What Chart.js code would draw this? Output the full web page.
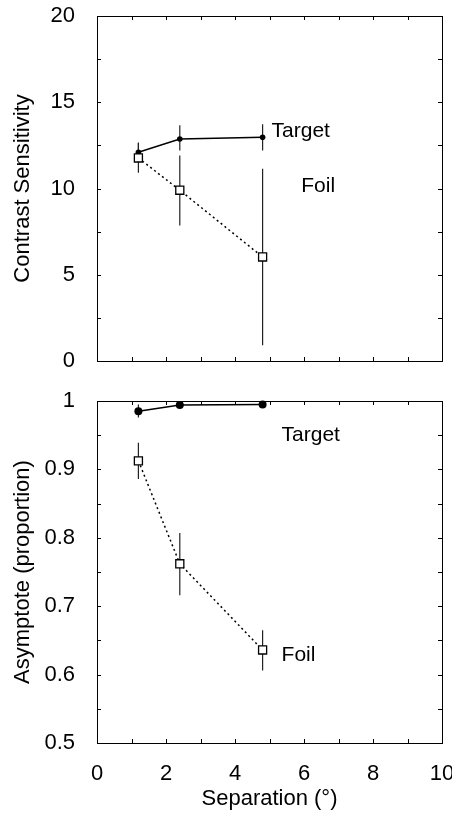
<!DOCTYPE html>
<html>
<head>
<meta charset="utf-8">
<script src="https://cdn.jsdelivr.net/npm/chart.js@4.4.1/dist/chart.umd.min.js"></script>
<style>
    html, body { margin: 0; padding: 0; background: #fff; }
    canvas { position: absolute; left: 0; }
</style>
</head>
<body>
<canvas id="csChart" width="452" height="380" style="top:0"></canvas>
<canvas id="asChart" width="452" height="433" style="top:380px"></canvas>
<script>
// separation in degrees
const separation = [1.2, 2.4, 4.8];

// contrast sensitivity (top panel)
const csTarget   = [12.1, 12.87, 12.97];
const csTargetLo = [11.55, 12.21, 12.21];
const csTargetHi = [12.66, 13.66, 13.72];
const csFoil     = [11.77, 9.9, 6.03];
const csFoilLo   = [10.92, 7.86, 0.91];
const csFoilHi   = [12.62, 11.92, 11.15];

// asymptote (bottom panel)
const asTarget   = [0.985, 0.994, 0.995];
const asTargetLo = [0.976, 0.990, 0.991];
const asTargetHi = [0.995, 0.998, 0.999];
const asFoil     = [0.9125, 0.762, 0.636];
const asFoilLo   = [0.886, 0.716, 0.606];
const asFoilHi   = [0.939, 0.807, 0.665];

// tick labels
const xTickLabels  = [0, 2, 4, 6, 8, 10];
const csTickLabels = [0, 5, 10, 15, 20];
const asTickLabels = [0.5, 0.6, 0.7, 0.8, 0.9, 1];

const FONT = "'Liberation Sans', Arial, Helvetica, sans-serif";
Chart.defaults.font.family = FONT;
Chart.defaults.font.size = 22;
Chart.defaults.color = '#000';

const toPoints = (ys) => separation.map((x, i) => ({ x, y: ys[i] }));
const hasLabel = (list, v) => list.some(l => Math.abs(l - v) < 1e-9);

/* ---------- PLUGINS ---------- */

// box round the plot with inward ticks on all four sides
const framePlugin = {
    id: 'frame',
    beforeDatasetsDraw(chart) {
        const { ctx, chartArea: a, scales: { x, y } } = chart;
        const len = 4;
        ctx.save();
        ctx.strokeStyle = '#000';
        ctx.lineWidth = 1;
        ctx.strokeRect(a.left + 0.5, a.top + 0.5, a.right - a.left, a.bottom - a.top);
        ctx.beginPath();
        x.ticks.forEach(t => {
            const px = Math.round(x.getPixelForValue(t.value)) + 0.5;
            ctx.moveTo(px, a.bottom); ctx.lineTo(px, a.bottom - len);
            ctx.moveTo(px, a.top); ctx.lineTo(px, a.top + len);
        });
        y.ticks.forEach(t => {
            const py = Math.round(y.getPixelForValue(t.value)) + 0.5;
            ctx.moveTo(a.left, py); ctx.lineTo(a.left + len, py);
            ctx.moveTo(a.right, py); ctx.lineTo(a.right - len, py);
        });
        ctx.stroke();
        ctx.restore();
    }
};

const errorBarPlugin = {
    id: 'errorBars',
    beforeDatasetsDraw(chart) {
        const { ctx, scales: { x, y } } = chart;
        ctx.save();
        ctx.strokeStyle = '#222';
        ctx.lineWidth = 1.2;
        chart.data.datasets.forEach(ds => {
            if (!ds.errLo) return;
            ds.data.forEach((pt, i) => {
                const px = x.getPixelForValue(pt.x);
                ctx.beginPath();
                ctx.moveTo(px, y.getPixelForValue(ds.errLo[i]));
                ctx.lineTo(px, y.getPixelForValue(ds.errHi[i]));
                ctx.stroke();
            });
        });
        ctx.restore();
    }
};

const notesPlugin = {
    id: 'notes',
    afterDatasetsDraw(chart, args, opts) {
        const { ctx, scales: { x, y } } = chart;
        ctx.save();
        ctx.font = '21px ' + FONT;
        ctx.fillStyle = '#000';
        ctx.textAlign = 'left';
        ctx.textBaseline = 'alphabetic';
        (opts.items || []).forEach(n => {
            ctx.fillText(n.text, x.getPixelForValue(n.x), y.getPixelForValue(n.y));
        });
        ctx.restore();
    }
};

/* ---------- PANELS ---------- */

function makePanel(id, p) {
    return new Chart(document.getElementById(id), {
        type: 'scatter',
        data: {
            datasets: [
                {
                    label: 'Target',
                    data: toPoints(p.target),
                    errLo: p.targetLo, errHi: p.targetHi,
                    showLine: true,
                    borderColor: '#000',
                    borderWidth: 1.5,
                    pointStyle: 'circle',
                    pointRadius: p.dotRadius,
                    pointBackgroundColor: '#000',
                    pointBorderColor: '#000',
                    pointBorderWidth: 0,
                    clip: false,
                    order: 1
                },
                {
                    label: 'Foil',
                    data: toPoints(p.foil),
                    errLo: p.foilLo, errHi: p.foilHi,
                    showLine: true,
                    borderColor: '#000',
                    borderWidth: 1.5,
                    borderDash: [2, 3],
                    pointStyle: 'rect',
                    pointRadius: 5.7,
                    pointBackgroundColor: '#fff',
                    pointBorderColor: '#000',
                    pointBorderWidth: 1.3,
                    clip: false,
                    order: 0
                }
            ]
        },
        options: {
            responsive: false,
            animation: false,
            devicePixelRatio: 1,
            layout: { padding: { top: p.padTop, right: 10, left: 0, bottom: 0 } },
            plugins: {
                legend: { display: false },
                tooltip: { enabled: false },
                notes: { items: p.notes }
            },
            scales: {
                x: {
                    type: 'linear',
                    min: 0, max: 10,
                    grid: { display: false },
                    border: { display: false },
                    ticks: {
                        stepSize: 1,
                        autoSkip: false,
                        maxRotation: 0,
                        padding: 10,
                        callback: v => p.showX && hasLabel(xTickLabels, v) ? String(v) : ''
                    },
                    title: {
                        display: p.showX,
                        text: 'Separation (°)',
                        padding: { top: 0, bottom: 1 }
                    },
                    afterFit: s => { s.height = p.xHeight; s.paddingLeft = 0; s.paddingRight = 0; }
                },
                y: {
                    type: 'linear',
                    min: p.yMin, max: p.yMax,
                    grid: { display: false },
                    border: { display: false },
                    ticks: {
                        stepSize: p.yStep,
                        autoSkip: false,
                        padding: 14,
                        callback: v => hasLabel(p.yLabels, v) ? String(+v.toFixed(2)) : ''
                    },
                    title: {
                        display: true,
                        text: p.yTitle,
                        padding: { top: 10, bottom: 0 }
                    },
                    afterFit: s => { s.width = 97; s.paddingTop = 0; s.paddingBottom = 0; }
                }
            }
        },
        plugins: [framePlugin, errorBarPlugin, notesPlugin]
    });
}

makePanel('csChart', {
    target: csTarget, targetLo: csTargetLo, targetHi: csTargetHi,
    foil: csFoil, foilLo: csFoilLo, foilHi: csFoilHi,
    dotRadius: 2.8,
    yMin: 0, yMax: 20, yStep: 2.5, yLabels: csTickLabels,
    yTitle: 'Contrast Sensitivity',
    showX: false, xHeight: 19, padTop: 16,
    notes: [
        { text: 'Target', x: 5.06, y: 13.0 },
        { text: 'Foil', x: 5.92, y: 9.81 }
    ]
});

makePanel('asChart', {
    target: asTarget, targetLo: asTargetLo, targetHi: asTargetHi,
    foil: asFoil, foilLo: asFoilLo, foilHi: asFoilHi,
    dotRadius: 4,
    yMin: 0.5, yMax: 1, yStep: 0.05, yLabels: asTickLabels,
    yTitle: 'Asymptote (proportion)',
    showX: true, xHeight: 70, padTop: 21,
    notes: [
        { text: 'Target', x: 5.35, y: 0.941 },
        { text: 'Foil', x: 5.35, y: 0.62 }
    ]
});
</script>
</body>
</html>
